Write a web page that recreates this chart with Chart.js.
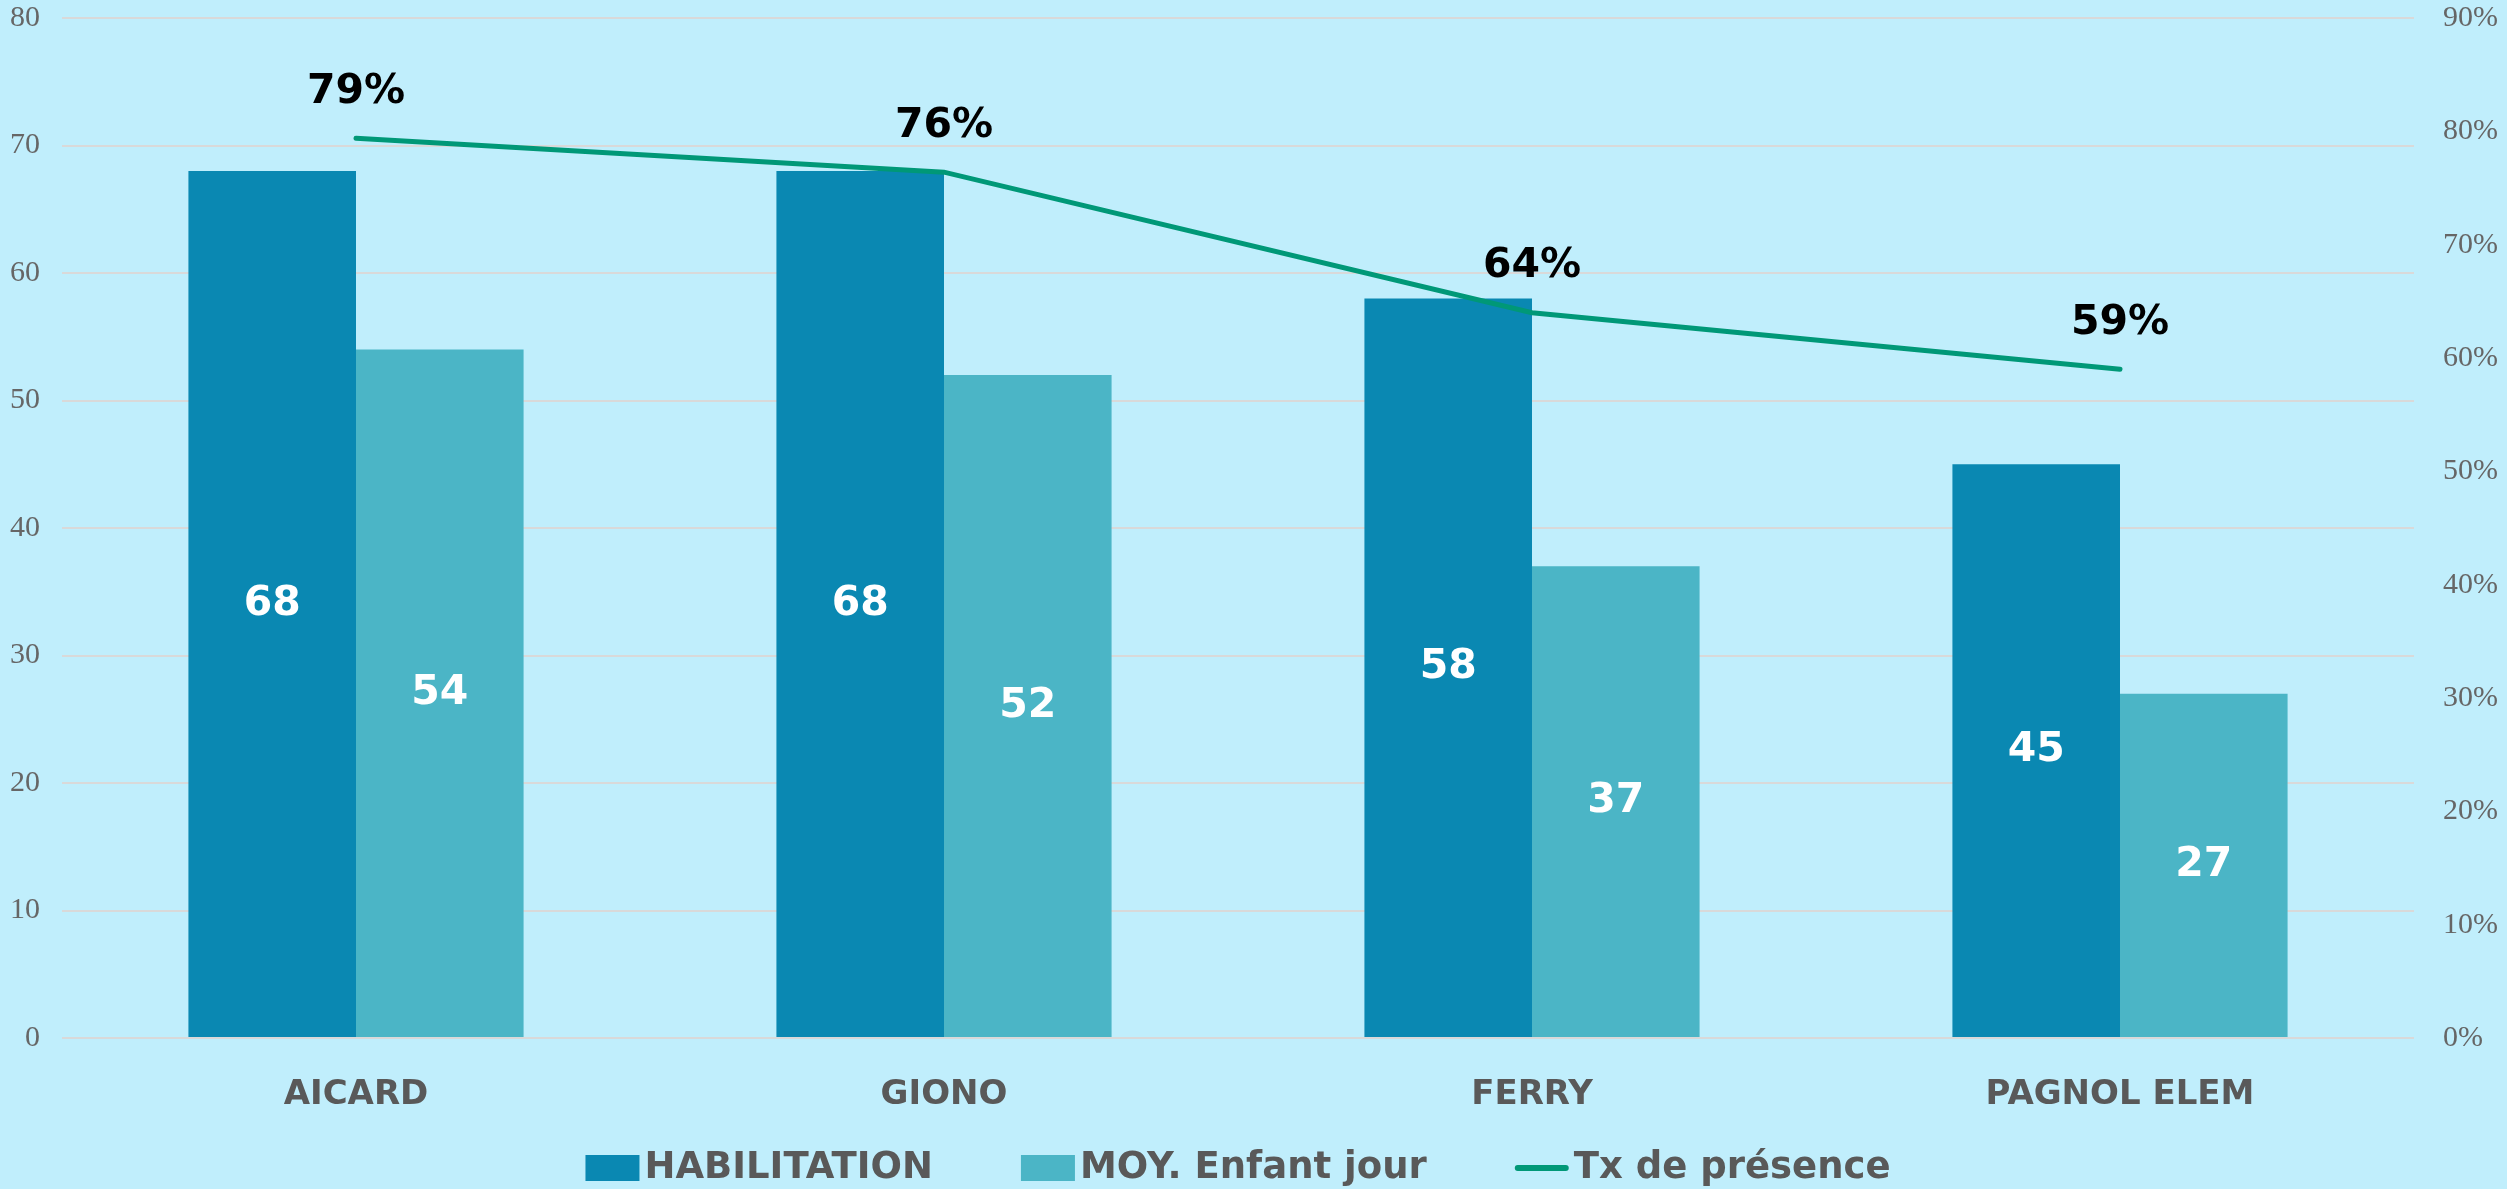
<!DOCTYPE html>
<html lang="fr">
<head>
<meta charset="utf-8">
<title>Tx de présence</title>
<script src="https://cdn.jsdelivr.net/npm/chart.js@4.4.1/dist/chart.umd.min.js"></script>
<style>
  html, body { margin: 0; padding: 0; background: #c0eefc; }
  #wrap { width: 2507px; height: 1189px; }
</style>
</head>
<body>
<div id="wrap"><canvas id="chartPresence"></canvas></div>
<script>
// données
const ecoles = ['AICARD', 'GIONO', 'FERRY', 'PAGNOL ELEM'];
const habilitation = [68, 68, 58, 45];
const moyEnfantJour = [54, 52, 37, 27];
const txPresence = [79.4, 76.4, 64, 59];

const fondColor = '#c0eefc';
const texteGris = '#595959';

// fond bleu clair
const fond = {
  id: 'fond',
  beforeDraw(chart) {
    const ctx = chart.ctx;
    ctx.save();
    ctx.fillStyle = fondColor;
    ctx.fillRect(0, 0, chart.width, chart.height);
    ctx.restore();
  }
};

// étiquettes de valeurs (barres au milieu, ligne au-dessus)
const etiquettes = {
  id: 'etiquettes',
  afterDatasetsDraw(chart) {
    const ctx = chart.ctx;
    ctx.save();
    ctx.textAlign = 'center';
    ctx.textBaseline = 'middle';
    ctx.font = 'bold 41px "DejaVu Sans"';
    chart.data.datasets.forEach((ds, i) => {
      const meta = chart.getDatasetMeta(i);
      meta.data.forEach((el, j) => {
        const v = ds.data[j];
        if (meta.type === 'bar') {
          ctx.fillStyle = '#ffffff';
          ctx.fillText(v, el.x, (el.y + el.base) / 2);
        } else {
          ctx.fillStyle = '#000000';
          ctx.fillText(Math.round(v) + '%', el.x, el.y - 46);
        }
      });
    });
    ctx.restore();
  }
};

// légende en bas, dessinée à la main pour garder les écarts
const legende = {
  id: 'legende',
  afterDraw(chart) {
    const ctx = chart.ctx;
    const area = chart.chartArea;
    const y = 1168;
    ctx.save();
    ctx.font = 'bold 37px "DejaVu Sans"';
    ctx.textBaseline = 'middle';
    const items = chart.data.datasets.map(ds => ({
      text: ds.label,
      color: ds.type === 'line' ? ds.borderColor : ds.backgroundColor,
      line: ds.type === 'line'
    }));
    const symW = 54, gap = 5, sep = 88;
    let total = 0;
    items.forEach((it, k) => {
      it.w = ctx.measureText(it.text).width;
      total += symW + gap + it.w + (k > 0 ? sep : 0);
    });
    let x = (area.left + area.right) / 2 - total / 2;
    items.forEach(it => {
      if (it.line) {
        ctx.strokeStyle = it.color;
        ctx.lineWidth = 6;
        ctx.lineCap = 'round';
        ctx.beginPath();
        ctx.moveTo(x + 3, y);
        ctx.lineTo(x + symW - 3, y);
        ctx.stroke();
      } else {
        ctx.fillStyle = it.color;
        ctx.fillRect(x, y - 13, symW, 26);
      }
      ctx.fillStyle = texteGris;
      ctx.fillText(it.text, x + symW + gap, y);
      x += symW + gap + it.w + sep;
    });
    ctx.restore();
  }
};

// largeur fixe des axes verticaux, sans la marge que Chart.js ajoute en haut
function fixeAxe(largeur) {
  return scale => {
    scale.width = largeur;
    scale.paddingTop = 18;
    scale.paddingBottom = 18;
  };
}

const ctxPresence = document.getElementById('chartPresence').getContext('2d');

new Chart(ctxPresence, {
  data: {
    labels: ecoles,
    datasets: [
      {
        type: 'bar',
        label: 'HABILITATION',
        data: habilitation,
        yAxisID: 'y',
        backgroundColor: '#0a88b2',
        categoryPercentage: 0.57,
        barPercentage: 1.0,
        order: 1
      },
      {
        type: 'bar',
        label: 'MOY. Enfant jour',
        data: moyEnfantJour,
        yAxisID: 'y',
        backgroundColor: '#4bb5c6',
        categoryPercentage: 0.57,
        barPercentage: 1.0,
        order: 1
      },
      {
        type: 'line',
        label: 'Tx de présence',
        data: txPresence,
        yAxisID: 'y1',
        borderColor: '#009877',
        borderWidth: 5,
        borderCapStyle: 'round',
        tension: 0,
        pointRadius: 0,
        order: 0
      }
    ]
  },
  options: {
    responsive: true,
    maintainAspectRatio: false,
    animation: false,
    layout: {
      padding: { top: 0, bottom: 71, left: 0, right: 0 }
    },
    plugins: {
      legend: { display: false },
      tooltip: { enabled: false }
    },
    scales: {
      x: {
        grid: { display: false },
        border: { display: false },
        ticks: {
          color: texteGris,
          padding: 29,
          font: { family: 'DejaVu Sans', weight: 'bold', size: 34 }
        },
        afterFit: scale => { scale.height = 80; }
      },
      y: {
        position: 'left',
        min: 0,
        max: 80,
        grid: { color: '#d9d9d9', lineWidth: 2, drawTicks: false },
        border: { display: false },
        ticks: {
          stepSize: 10,
          color: '#666666',
          padding: 22,
          font: { family: 'Liberation Serif', size: 30 }
        },
        afterFit: fixeAxe(62)
      },
      y1: {
        position: 'right',
        min: 0,
        max: 90,
        grid: { display: false, drawTicks: false },
        border: { display: false },
        ticks: {
          stepSize: 10,
          color: '#666666',
          padding: 29,
          font: { family: 'Liberation Serif', size: 30 },
          callback: v => v + '%'
        },
        afterFit: fixeAxe(93)
      }
    }
  },
  plugins: [fond, etiquettes, legende]
});
</script>
</body>
</html>
